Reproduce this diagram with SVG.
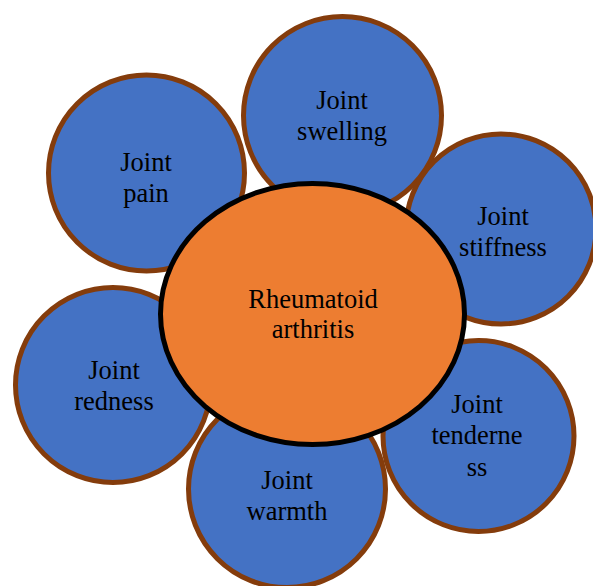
<svg xmlns="http://www.w3.org/2000/svg" width="593" height="586" viewBox="0 0 593 586">
<style>
.n{fill:#4472C4;stroke:#843C0C;stroke-width:5}
.c{fill:#ED7D31;stroke:#000;stroke-width:5}
text{font-family:"Liberation Serif","Times New Roman",serif;font-size:26.5px;fill:#000;text-anchor:middle}
</style>
<rect width="593" height="586" fill="#fff"/>
<g id="node-swelling"><circle class="n" cx="342.5" cy="115.5" r="99"/><text x="342" y="109">Joint</text><text x="342" y="140">swelling</text></g>
<g id="node-pain"><circle class="n" cx="146.5" cy="173" r="98"/><text x="146" y="171">Joint</text><text x="146" y="202">pain</text></g>
<g id="node-stiffness"><circle class="n" cx="501" cy="229" r="95"/><text x="503" y="225">Joint</text><text x="503" y="256">stiffness</text></g>
<g id="node-tenderness"><circle class="n" cx="478.5" cy="436" r="95.5"/><text x="477" y="413">Joint</text><text x="477" y="444">tenderne</text><text x="477" y="476">ss</text></g>
<g id="node-warmth"><circle class="n" cx="287" cy="489" r="98.5"/><text x="287" y="489">Joint</text><text x="287" y="520">warmth</text></g>
<g id="node-redness"><circle class="n" cx="113" cy="385" r="97.5"/><text x="114" y="379">Joint</text><text x="114" y="410">redness</text></g>
<g id="node-center"><ellipse class="c" cx="312.5" cy="314" rx="152" ry="130.5"/><text x="313" y="308">Rheumatoid</text><text x="313" y="338">arthritis</text></g>
<g id="connectors"></g>
</svg>
